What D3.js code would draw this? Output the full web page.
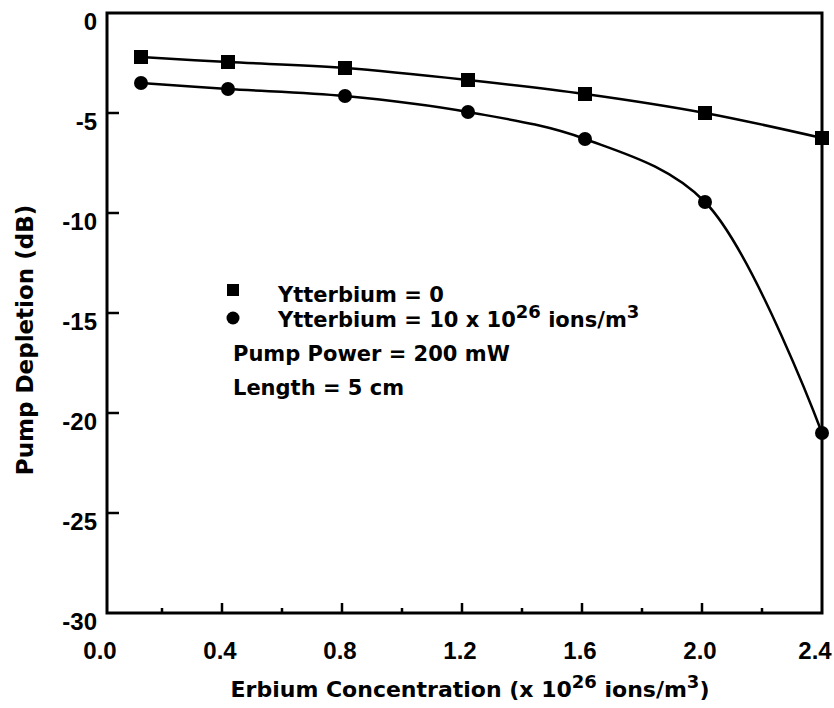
<!DOCTYPE html>
<html lang="en">
<head>
<meta charset="utf-8">
<title>Pump Depletion vs Erbium Concentration</title>
<style>
  body { margin: 0; background: #fff; }
  text { font-family: "DejaVu Sans", sans-serif; font-weight: bold; fill: #000; }
  text.tick-label { font-family: "Liberation Sans", Arial, sans-serif; font-size: 24px; }
  .frame { fill: none; stroke: #000; stroke-width: 3; }
  .curve { fill: none; stroke: #000; stroke-width: 2.5; }
</style>
<script src="https://d3js.org/d3.v7.min.js"></script>
</head>
<body>
<script>
// data
const erbium = [0.13, 0.42, 0.81, 1.22, 1.61, 2.01, 2.40];
const ybZero = [-2.2, -2.45, -2.75, -3.35, -4.05, -5.0, -6.25];
const ybTen = [-3.5, -3.8, -4.15, -4.95, -6.3, -9.45, -21.0];
const xTicks = [0.0, 0.4, 0.8, 1.2, 1.6, 2.0, 2.4];
const xMinor = [0.2, 0.6, 1.0, 1.4, 1.8, 2.2];
const yTicks = [0, -5, -10, -15, -20, -25, -30];

const width = 834, height = 708;
const svg = d3.select("body").append("svg")
    .attr("width", width)
    .attr("height", height);

const x = d3.scaleLinear().domain([0, 2.4]).range([102, 822]);
const y = d3.scaleLinear().domain([-30, 0]).range([613, 13]);
const frameLeft = 107;

// frame
svg.append("rect").attr("class", "frame")
    .attr("x", frameLeft).attr("y", y(0))
    .attr("width", x(2.4) - frameLeft).attr("height", y(-30) - y(0));

// x ticks pointing inward
svg.append("g").selectAll("line").data(xTicks.slice(1, -1)).enter()
    .append("line")
    .attr("x1", d => x(d)).attr("x2", d => x(d))
    .attr("y1", y(-30)).attr("y2", y(-30) - 10)
    .attr("stroke", "#000").attr("stroke-width", 2.5);
svg.append("g").selectAll("line").data(xMinor).enter()
    .append("line")
    .attr("x1", d => x(d)).attr("x2", d => x(d))
    .attr("y1", y(-30)).attr("y2", y(-30) - 5)
    .attr("stroke", "#000").attr("stroke-width", 2.5);
svg.append("g").selectAll("text").data(xTicks).enter()
    .append("text")
    .attr("class", "tick-label")
    .attr("x", d => Math.min(x(d) - 2, width - 19)).attr("y", 659)
    .attr("text-anchor", "middle")
    .text(d => d3.format(".1f")(d));

// y ticks
svg.append("g").selectAll("line").data(yTicks.slice(1, -1)).enter()
    .append("line")
    .attr("x1", frameLeft).attr("x2", frameLeft + 12)
    .attr("y1", d => y(d)).attr("y2", d => y(d))
    .attr("stroke", "#000").attr("stroke-width", 2.5);
svg.append("g").selectAll("text").data(yTicks).enter()
    .append("text")
    .attr("class", "tick-label")
    .attr("x", 97).attr("y", d => y(d) + 17)
    .attr("text-anchor", "end")
    .text(d => d === 0 ? "0" : "-" + Math.abs(d));

// axis titles
const xt = svg.append("text")
    .attr("x", 470).attr("y", 697)
    .attr("text-anchor", "middle")
    .style("font-size", "22px");
xt.append("tspan").text("Erbium Concentration (x 10");
xt.append("tspan").attr("dy", -9).style("font-size", "18px").text("26");
xt.append("tspan").attr("dy", 9).text(" ions/m");
xt.append("tspan").attr("dy", -9).style("font-size", "18px").text("3");
xt.append("tspan").attr("dy", 9).text(")");

svg.append("text")
    .attr("transform", "translate(33,340) rotate(-90)")
    .attr("text-anchor", "middle")
    .style("font-size", "23px")
    .text("Pump Depletion (dB)");

// curves
const line = d3.line().x(d => x(d[0])).y(d => y(d[1])).curve(d3.curveCatmullRom.alpha(0.5));
const s0 = erbium.map((e, i) => [e, ybZero[i]]);
const s1 = erbium.map((e, i) => [e, ybTen[i]]);
svg.append("path").attr("class", "curve").attr("d", line(s0));
svg.append("path").attr("class", "curve").attr("d", line(s1));

svg.append("g").selectAll("rect").data(s0).enter()
    .append("rect")
    .attr("x", d => x(d[0]) - 7).attr("y", d => y(d[1]) - 7)
    .attr("width", 14).attr("height", 14)
    .attr("fill", "#000");
svg.append("g").selectAll("circle").data(s1).enter()
    .append("circle")
    .attr("cx", d => x(d[0])).attr("cy", d => y(d[1]))
    .attr("r", 7).attr("fill", "#000");

// legend
const lg = svg.append("g").style("font-size", "21px");
lg.append("rect").attr("x", 227).attr("y", 284).attr("width", 12).attr("height", 12).attr("fill", "#000");
lg.append("circle").attr("cx", 233).attr("cy", 318).attr("r", 6.5).attr("fill", "#000");
lg.append("text").attr("x", 278).attr("y", 302).text("Ytterbium = 0");
const l2 = lg.append("text").attr("x", 278).attr("y", 327);
l2.append("tspan").text("Ytterbium = 10 x 10");
l2.append("tspan").attr("dy", -9).style("font-size", "18px").text("26");
l2.append("tspan").attr("dy", 9).text(" ions/m");
l2.append("tspan").attr("dy", -9).style("font-size", "18px").text("3");
lg.append("text").attr("x", 233).attr("y", 361).text("Pump Power = 200 mW");
lg.append("text").attr("x", 233).attr("y", 395).text("Length = 5 cm");
</script>
</body>
</html>
